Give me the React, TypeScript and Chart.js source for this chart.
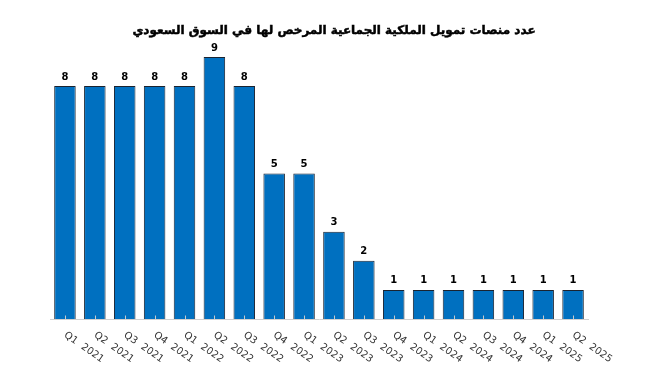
import React, { useEffect, useRef } from "react";
import { Chart, registerables } from "chart.js";

Chart.register(...registerables);

const TITLE = "عدد منصات تمويل الملكية الجماعية المرخص لها في السوق السعودي";
const quarters = ["Q1", "Q2", "Q3", "Q4", "Q1", "Q2", "Q3", "Q4", "Q1", "Q2", "Q3", "Q4", "Q1", "Q2", "Q3", "Q4", "Q1", "Q2"];
const years = ["2021", "2021", "2021", "2021", "2022", "2022", "2022", "2022", "2023", "2023", "2023", "2023", "2024", "2024", "2024", "2024", "2025", "2025"];
const platforms = [8, 8, 8, 8, 8, 9, 8, 5, 5, 3, 2, 1, 1, 1, 1, 1, 1, 1];

const labels = quarters.map((q, i) => `${q}  ${years[i]}`);

const FONT = "'DejaVu Sans', sans-serif";

const customPlugin = {
  id: "custom",
  afterDatasetsDraw(chart: any) {
    const { ctx, scales } = chart;
    const xs = scales.x;
    const meta = chart.getDatasetMeta(0);
    ctx.save();
    // inner tick marks
    ctx.strokeStyle = "#c8c8c8";
    ctx.lineWidth = 1;
    const bottom = chart.chartArea.bottom;
    for (let i = 0; i < labels.length; i++) {
      const x = Math.round(xs.getPixelForTick(i)) + 0.5;
      ctx.beginPath();
      ctx.moveTo(x, bottom);
      ctx.lineTo(x, bottom - 3.5);
      ctx.stroke();
    }
    // value labels
    ctx.fillStyle = "#000";
    ctx.font = `bold 10px ${FONT}`;
    ctx.textAlign = "center";
    ctx.textBaseline = "bottom";
    meta.data.forEach((bar: any, i: number) => {
      ctx.fillText(String(platforms[i]), bar.x, bar.y - 4);
    });
    // rotated tick labels
    ctx.fillStyle = "#333";
    ctx.font = `10px ${FONT}`;
    ctx.textAlign = "left";
    ctx.textBaseline = "top";
    for (let i = 0; i < labels.length; i++) {
      const x = xs.getPixelForTick(i);
      ctx.save();
      ctx.translate(x + 3, 330);
      ctx.rotate((35 * Math.PI) / 180);
      ctx.fillText(labels[i], 0, 0);
      ctx.restore();
    }
    // title
    ctx.fillStyle = "#000";
    ctx.strokeStyle = "#000";
    ctx.lineWidth = 0.5;
    ctx.font = `bold 12px ${FONT}`;
    ctx.textAlign = "center";
    ctx.textBaseline = "middle";
    ctx.direction = "rtl";
    ctx.fillText(TITLE, 334, 31);
    ctx.strokeText(TITLE, 334, 31);
    ctx.restore();
  },
};

export default function App() {
  const ref = useRef<HTMLCanvasElement>(null);
  useEffect(() => {
    document.body.style.margin = "0";
    const chart = new Chart(ref.current!, {
      type: "bar",
      data: {
        labels,
        datasets: [
          {
            data: platforms,
            backgroundColor: "#0070C0",
            borderColor: "#1a2330",
            borderWidth: { top: 1, left: 1, right: 1, bottom: 0 },
            borderSkipped: false,
            barPercentage: 0.72,
            categoryPercentage: 1,
          },
        ],
      },
      options: {
        animation: false,
        responsive: false,
        maintainAspectRatio: false,
        layout: { padding: { left: 50, right: 77, top: 57, bottom: 70 } },
        plugins: { legend: { display: false }, title: { display: false }, tooltip: { enabled: false } },
        scales: {
          x: {
            offset: true,
            grid: { display: false },
            border: { display: true, color: "#d0d0d0", width: 1 },
            ticks: { display: false },
            afterFit: (s: any) => {
              s.height = 0;
            },
          },
          y: { display: false, min: 0, max: 9 },
        },
      },
      plugins: [customPlugin],
    });
    return () => chart.destroy();
  }, []);
  return <canvas ref={ref} width={665} height={389} style={{ display: "block" }} />;
}
